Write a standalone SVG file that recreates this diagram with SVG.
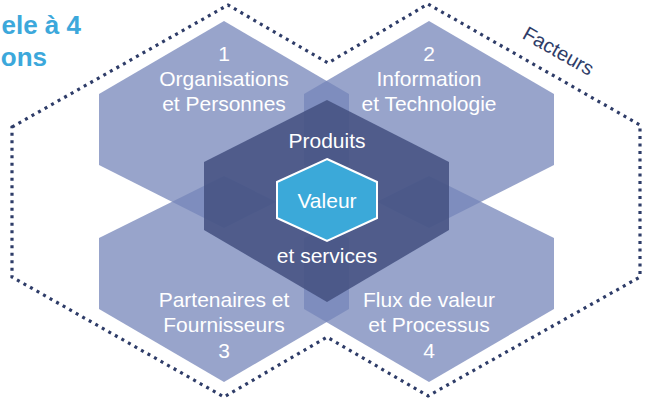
<svg xmlns="http://www.w3.org/2000/svg" width="654" height="404" viewBox="0 0 654 404">
<style>
.hex{fill:#7586ba;fill-opacity:0.75}
.core{fill:#435080;fill-opacity:0.85}
.val{fill:#3ba9d9;stroke:#ffffff;stroke-width:2}
.lbl{font-family:"Liberation Sans",Arial,sans-serif;font-size:21px;fill:#ffffff;text-anchor:middle}
.title{font-family:"Liberation Sans",Arial,sans-serif;font-size:26px;font-weight:bold;fill:#3ca8db;text-anchor:end}
.fac{font-family:"Liberation Sans",Arial,sans-serif;font-size:20px;fill:#2e3c68;text-anchor:middle}
.dots{fill:none;stroke:#2e3c68;stroke-width:3.2;stroke-dasharray:3 4.5}
</style>
<rect width="654" height="404" fill="#ffffff"/>
<g id="title">
<text class="title" x="81" y="34">ele à 4</text>
<text class="title" x="47" y="66">ons</text>
</g>
<g id="facteurs">
<polygon class="dots" points="12,127 228,5 328,63 428,4 640,125 640,277 428,396 327,337 224,397 12,277"/>
<text class="fac" transform="translate(555,57) rotate(29.5)">Facteurs</text>
</g>
<g id="node1">
<polygon class="hex" points="224,21 349,94 349,165 224,228 99,165 99,94"/>
</g>
<g id="node2">
<polygon class="hex" points="429,21 554,94 554,165 429,228 304,165 304,94"/>
</g>
<g id="node3">
<polygon class="hex" points="224,176 349,238 349,309 224,382 99,309 99,238"/>
</g>
<g id="node4">
<polygon class="hex" points="429,176 554,238 554,309 429,382 304,309 304,238"/>
</g>
<g id="produits">
<polygon class="core" points="327,100 449,162 449,230 327,302 204,230 204,162"/>
</g>
<g id="valeur">
<polygon class="val" points="327,159 377,182 377,218 327,241 277,218 277,182"/>
<text class="lbl" x="327" y="208">Valeur</text>
</g>
<g id="labels">
<text class="lbl" x="224" y="61">1</text>
<text class="lbl" x="224" y="86">Organisations</text>
<text class="lbl" x="224" y="111">et Personnes</text>
<text class="lbl" x="429" y="61">2</text>
<text class="lbl" x="429" y="86">Information</text>
<text class="lbl" x="429" y="111">et Technologie</text>
<text class="lbl" x="224" y="307">Partenaires et</text>
<text class="lbl" x="224" y="332">Fournisseurs</text>
<text class="lbl" x="224" y="358">3</text>
<text class="lbl" x="429" y="307">Flux de valeur</text>
<text class="lbl" x="429" y="332">et Processus</text>
<text class="lbl" x="429" y="358">4</text>
<text class="lbl" x="327" y="148">Produits</text>
<text class="lbl" x="327" y="263">et services</text>
</g>
<g id="connectors"></g>
</svg>
